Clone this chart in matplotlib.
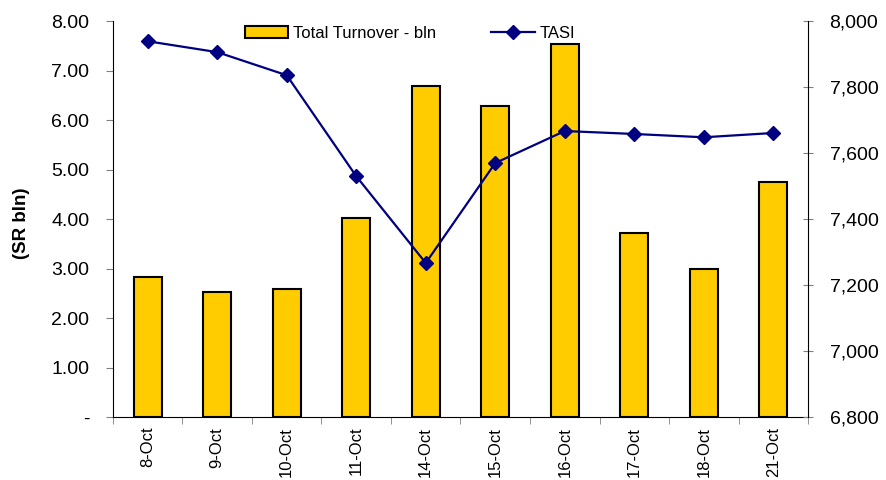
"""
Total turnover (bars) vs TASI (line), dual-axis chart.
"""
import matplotlib

matplotlib.use("Agg")
import matplotlib.pyplot as plt
from matplotlib.ticker import FixedLocator

plt.rcParams["font.family"] = ["Liberation Sans", "DejaVu Sans"]

dates = ["8-Oct", "9-Oct", "10-Oct", "11-Oct", "14-Oct",
         "15-Oct", "16-Oct", "17-Oct", "18-Oct", "21-Oct"]
turnover = [2.83, 2.53, 2.59, 4.02, 6.69, 6.28, 7.54, 3.72, 2.99, 4.75]
tasi = [7939, 7906, 7836, 7530, 7267, 7570, 7667, 7658, 7648, 7661]

left_ticks = [0, 1, 2, 3, 4, 5, 6, 7, 8]
right_ticks = [6800, 7000, 7200, 7400, 7600, 7800, 8000]

BAR_COLOR = "#FFCC00"
LINE_COLOR = "#000080"
TICK_COLOR = "#808080"


def main() -> None:
    fig = plt.figure(figsize=(8.86, 4.8), dpi=100)
    ax = fig.add_axes([0.1275, 0.131, 0.7845, 0.825])
    ax2 = ax.twinx()

    x = list(range(len(dates)))
    bars = ax.bar(x, turnover, width=0.4, color=BAR_COLOR, edgecolor="black",
                  linewidth=1.5, zorder=2)
    line, = ax2.plot(x, tasi, color=LINE_COLOR, linewidth=1.6, marker="D",
                     markersize=7.5, zorder=3)

    ax.set_xlim(-0.5, len(dates) - 0.5)
    ax.set_ylim(0, 8)
    ax2.set_ylim(6800, 8000)

    ax.set_yticks(left_ticks)
    ax.set_yticklabels(["-" if v == 0 else f"{v:.2f}" for v in left_ticks])
    ax2.set_yticks(right_ticks)
    ax2.set_yticklabels([f"{v:,}" for v in right_ticks])

    ax.set_xticks(x)
    ax.set_xticklabels(dates, rotation=90)
    ax.tick_params(axis="x", length=0, pad=7, labelsize=12)
    ax.xaxis.set_minor_locator(FixedLocator([i - 0.5 for i in range(len(dates) + 1)]))
    ax.tick_params(axis="x", which="minor", length=5, color=TICK_COLOR)
    ax.tick_params(axis="y", direction="out", length=5, color=TICK_COLOR,
                   labelsize=14, pad=12)
    ax2.tick_params(axis="y", direction="inout", length=7, color=TICK_COLOR,
                    labelsize=14, pad=12)

    for a in (ax, ax2):
        a.spines["top"].set_visible(False)
        a.patch.set_alpha(0)
    ax.spines["right"].set_visible(False)
    ax2.spines["bottom"].set_visible(False)
    ax2.spines["left"].set_visible(False)

    ax.set_ylabel("(SR bln)", fontsize=13.5, fontweight="bold")
    ax.yaxis.set_label_coords(-0.119, 0.49)

    ax.set_zorder(1)
    ax2.set_zorder(2)

    fig.legend([bars, line], ["Total Turnover - bln", "TASI"], ncol=2,
               loc="center left", bbox_to_anchor=(245 / 886, 1 - 33 / 480),
               frameon=False, fontsize=12, columnspacing=3.3,
               handlelength=2.6, handletextpad=0.3, borderpad=0,
               borderaxespad=0)

    fig.savefig("out.png", dpi=100)
    plt.close(fig)


if __name__ == "__main__":
    main()
